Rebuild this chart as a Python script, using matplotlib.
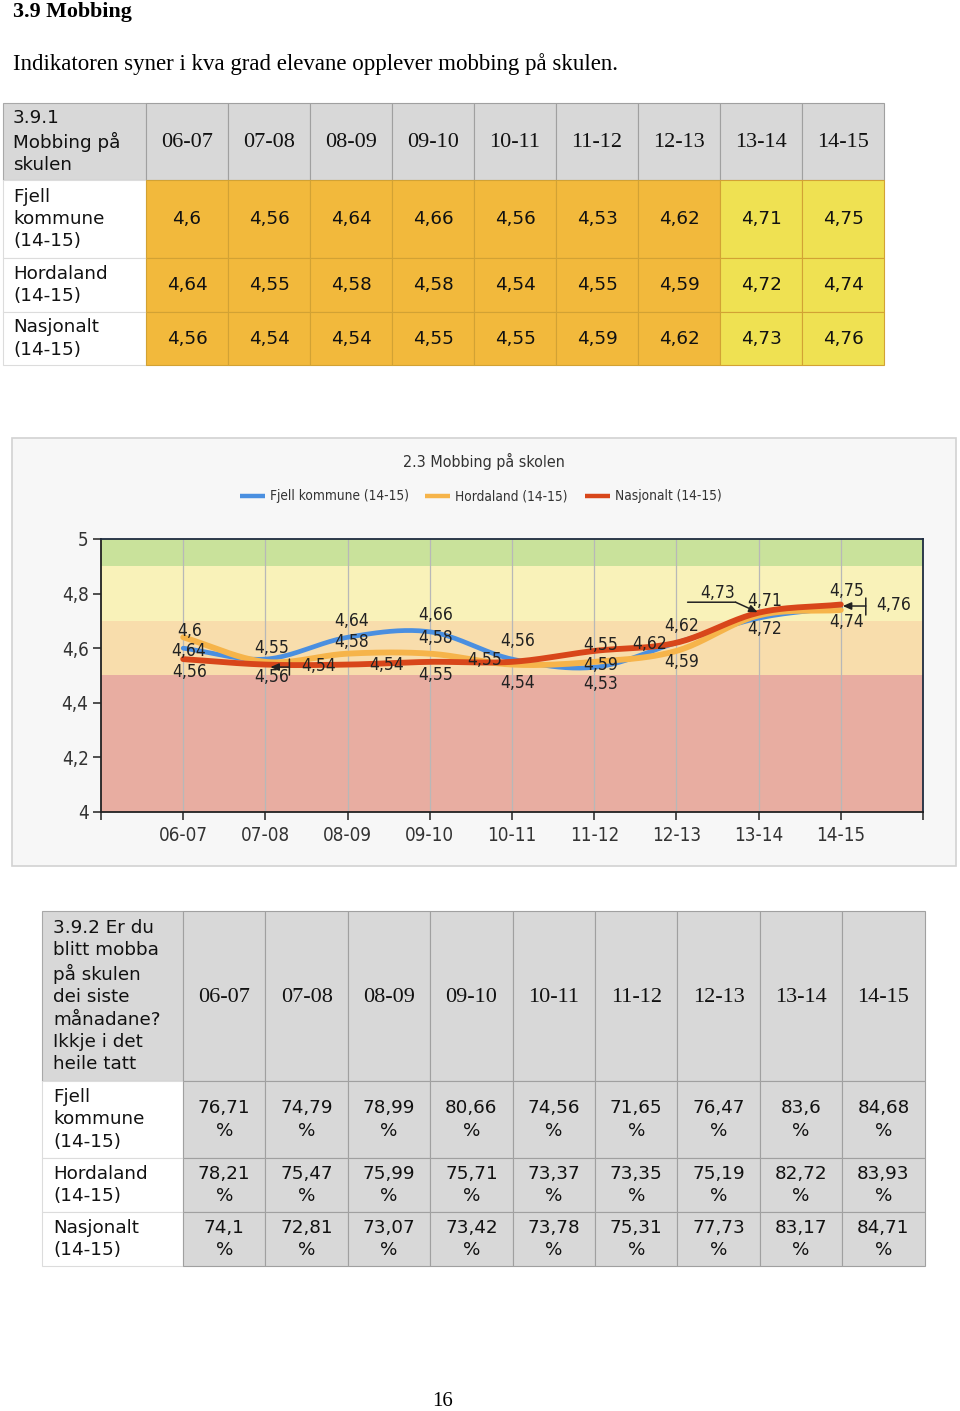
import numpy as np
import matplotlib
matplotlib.use("Agg")
import matplotlib.pyplot as plt
from matplotlib.patches import Rectangle
from matplotlib.transforms import offset_copy

# data
years = ["06-07", "07-08", "08-09", "09-10", "10-11", "11-12", "12-13", "13-14", "14-15"]
fjell = [4.6, 4.56, 4.64, 4.66, 4.56, 4.53, 4.62, 4.71, 4.75]
hordaland = [4.64, 4.55, 4.58, 4.58, 4.54, 4.55, 4.59, 4.72, 4.74]
nasjonalt = [4.56, 4.54, 4.54, 4.55, 4.55, 4.59, 4.62, 4.73, 4.76]

fjell_pct = [76.71, 74.79, 78.99, 80.66, 74.56, 71.65, 76.47, 83.6, 84.68]
hordaland_pct = [78.21, 75.47, 75.99, 75.71, 73.37, 73.35, 75.19, 82.72, 83.93]
nasjonalt_pct = [74.1, 72.81, 73.07, 73.42, 73.78, 75.31, 77.73, 83.17, 84.71]

row_names = ["Fjell\nkommune\n(14-15)", "Hordaland\n(14-15)", "Nasjonalt\n(14-15)"]
series_names = ["Fjell kommune (14-15)", "Hordaland (14-15)", "Nasjonalt (14-15)"]
band_edges = [4.0, 4.5, 4.7, 4.9, 5.0]
yticks = [4.0, 4.2, 4.4, 4.6, 4.8, 5.0]

# styles
SERIF = "Liberation Serif"
VERD = "DejaVu Sans"
NARROW = dict(family="DejaVu Sans", stretch="condensed")
line_colors = ["#4a8fe0", "#f6b44a", "#d8461a"]
band_colors = ["#e8ada1", "#f8ddac", "#f9f2b9", "#c9e29b"]
GRAY = "#d8d8d8"
ORANGE = "#f2b93c"
YELLOW = "#efe152"


def comma(v):
    return str(v).replace(".", ",")


def smooth(y, n=24):
    y = np.asarray(y, float)
    x = np.arange(1, len(y) + 1)
    m = np.gradient(y)
    t = np.linspace(0, 1, n)
    h00 = 2 * t**3 - 3 * t**2 + 1
    h10 = t**3 - 2 * t**2 + t
    h01 = -2 * t**3 + 3 * t**2
    h11 = t**3 - t**2
    xs, ys = [], []
    for i in range(len(y) - 1):
        xs.append(x[i] + t)
        ys.append(h00 * y[i] + h10 * m[i] + h01 * y[i + 1] + h11 * m[i + 1])
    return np.concatenate(xs), np.concatenate(ys)


fig = plt.figure(figsize=(9.6, 14.11), dpi=100)
bg = fig.add_axes([0, 0, 1, 1])
bg.set_xlim(0, 960)
bg.set_ylim(1411, 0)
bg.axis("off")

bg.text(13, 12, "3.9 Mobbing", family=SERIF, fontsize=15.8, fontweight="bold", va="center")
bg.text(13, 64, "Indikatoren syner i kva grad elevane opplever mobbing på skulen.",
        family=SERIF, fontsize=16.5, va="center")
bg.text(443, 1401, "16", family=SERIF, fontsize=15, ha="center", va="center")


def draw_table(x0, y0, label_w, col_w, heights, title, rows, colors, texts, lab_pad):
    # header row
    y = y0
    bg.add_patch(Rectangle((x0, y), label_w, heights[0], fc=GRAY, ec="#a8a8a8", lw=0.8))
    bg.text(x0 + lab_pad, y + heights[0] / 2, title, family=VERD, fontsize=13.2,
            va="center", linespacing=1.3, color="#111")
    for j, yr in enumerate(years):
        cx = x0 + label_w + j * col_w
        bg.add_patch(Rectangle((cx, y), col_w, heights[0], fc=GRAY, ec="#a0a0a0", lw=0.8))
        bg.text(cx + col_w / 2, y + heights[0] / 2 + 1, yr, family=SERIF, fontsize=16,
                ha="center", va="center", color="#111")
    y += heights[0]
    for r, name in enumerate(rows):
        h = heights[r + 1]
        bg.add_patch(Rectangle((x0, y), label_w, h, fc="white", ec="#dcdcdc", lw=0.8))
        bg.text(x0 + lab_pad, y + h / 2, name, family=VERD, fontsize=13.2,
                va="center", linespacing=1.32, color="#111")
        for j in range(len(years)):
            cx = x0 + label_w + j * col_w
            fc = colors[r][j]
            ec = "#a0a0a0" if fc == GRAY else "#d2a234"
            bg.add_patch(Rectangle((cx, y), col_w, h, fc=fc, ec=ec, lw=0.8))
            bg.text(cx + col_w / 2, y + h / 2, texts[r][j], family=VERD, fontsize=13.2,
                    ha="center", va="center", linespacing=1.32, multialignment="center",
                    color="#111")
        y += h


vals = [fjell, hordaland, nasjonalt]
cols1 = [[YELLOW if v >= 4.7 else ORANGE for v in row] for row in vals]
texts1 = [[comma(v) for v in row] for row in vals]
draw_table(3, 103, 143, 82, [77, 78, 54, 53], "3.9.1\nMobbing på\nskulen",
           row_names, cols1, texts1, 10)

pcts = [fjell_pct, hordaland_pct, nasjonalt_pct]
cols2 = [[GRAY for v in row] for row in pcts]
texts2 = [[comma(v) + "\n%" for v in row] for row in pcts]
draw_table(42, 911, 141, 82.4, [170, 77, 54, 54],
           "3.9.2 Er du\nblitt mobba\npå skulen\ndei siste\nmånadane?\nIkkje i det\nheile tatt",
           row_names, cols2, texts2, 11)

# chart panel
bg.add_patch(Rectangle((12, 438), 944, 428, fc="#f7f7f7", ec="#d2d2d2", lw=1.2))
bg.text(484, 461, "2.3 Mobbing på skolen", fontsize=11.5,
        ha="center", va="center", color="#333", **NARROW)
leg_x = [240, 425, 585]
for k in range(3):
    bg.plot([leg_x[k], leg_x[k] + 25], [496, 496], color=line_colors[k], lw=3.2,
            solid_capstyle="butt")
    bg.text(leg_x[k] + 30, 496, series_names[k], fontsize=9.8,
            va="center", color="#333", **NARROW)

ax = fig.add_axes([101 / 960, 1 - 812 / 1411, 822 / 960, 273 / 1411])
ax.set_xlim(0, 10)
ax.set_ylim(4, 5)
for k in range(len(band_colors)):
    ax.axhspan(band_edges[k], band_edges[k + 1], color=band_colors[k], lw=0, zorder=0)
for i in range(1, len(years) + 1):
    ax.axvline(i, color="#b8b8b8", lw=0.9, zorder=1)

ax.set_xticks(range(0, 11))
ax.set_xticklabels([""] + years + [""], fontsize=13.5, color="#333", **NARROW)
ax.set_yticks(yticks)
ax.set_yticklabels([("%g" % v).replace(".", ",") for v in yticks],
                   fontsize=13.5, color="#333", **NARROW)
ax.tick_params(axis="both", length=6, width=1.1, color="#222", direction="out")
ax.tick_params(axis="x", pad=4)
ax.tick_params(axis="y", pad=3)
for s in ["left", "bottom"]:
    ax.spines[s].set_color("#222")
    ax.spines[s].set_linewidth(1.3)
for s in ["top", "right"]:
    ax.spines[s].set_color("#1e2c40")
    ax.spines[s].set_linewidth(1.3)

for k, series in enumerate(vals):
    xs, ys = smooth(series)
    ax.plot(xs, ys, color=line_colors[k], lw=3.4 if k == 0 else 4.2,
            solid_capstyle="round", zorder=3 + k)

# label offsets in pixels (dx right, dy down) per series per year
label_off = [
    [(6, -17), (6, 18), (4, -16), (6, -17), (6, -18), (6, 17), (5, -17), (6, -17), (6, -16)],
    [(5, 14), (6, -14), (4, -12), (6, -16), (6, 18), (6, -17), (5, 11), (6, 14), (6, 12)],
    [(6, 13), (53, 1), (39, 0), (6, 13), (-27, -2), (6, 14), (-27, 1), (-41, -20), (53, 0)],
]
for k, series in enumerate(vals):
    for i, v in enumerate(series):
        dx, dy = label_off[k][i]
        ax.annotate(comma(v), (i + 1, v), xytext=(dx, -dy), textcoords="offset pixels",
                    ha="center", va="center", fontsize=12.5,
                    color="#222", zorder=10, **NARROW)


def off(dx, dy):
    return offset_copy(ax.transData, fig=fig, x=dx, y=-dy, units="dots")


def leader(i, v, p0, p1, style):
    ax.annotate("", xy=(i, v), xycoords=off(*p1), xytext=(i, v), textcoords=off(*p0),
                arrowprops=dict(arrowstyle=style, color="#222", lw=1.1,
                                shrinkA=0, shrinkB=0), zorder=11)


# leader arrows for labels moved away from their points
leader(2, nasjonalt[1], (24, 2.5), (5, 2.5), "-|>,head_length=0.5,head_width=0.22")
leader(2, nasjonalt[1], (24, -5.5), (24, 10.5), "-")
leader(9, nasjonalt[8], (25, 1.5), (2, 1.5), "-|>,head_length=0.5,head_width=0.22")
leader(9, nasjonalt[8], (25, -6.5), (25, 10.5), "-")
leader(8, nasjonalt[7], (-71, -10.5), (-23, -10.5), "-")
leader(8, nasjonalt[7], (-23, -10.5), (-1, -0.5), "-|>,head_length=0.5,head_width=0.22")

fig.savefig("out.png", dpi=100)
